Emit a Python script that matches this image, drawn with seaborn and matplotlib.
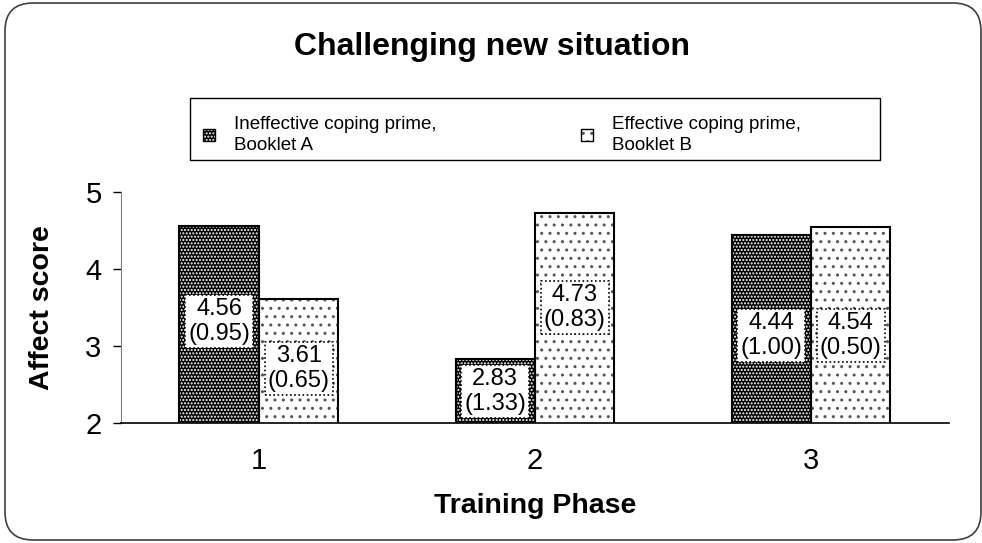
import pandas as pd
import matplotlib
matplotlib.use("Agg")
import matplotlib.pyplot as plt
from matplotlib.patches import Rectangle, FancyBboxPatch, Patch
import seaborn as sns

# data
phases = ["1", "2", "3"]
groups = ["Ineffective coping prime,\nBooklet A", "Effective coping prime,\nBooklet B"]
ineffective_mean = [4.56, 2.83, 4.44]
ineffective_sd = [0.95, 1.33, 1.00]
effective_mean = [3.61, 4.73, 4.54]
effective_sd = [0.65, 0.83, 0.50]
# height (score units) where the value boxes sit inside the bars
ineffective_label_y = [3.32, 2.41, 3.14]
effective_label_y = [2.71, 3.50, 3.14]

df = pd.DataFrame({
    "phase": phases * 2,
    "group": [groups[0]] * 3 + [groups[1]] * 3,
    "score": ineffective_mean + effective_mean,
})

sns.set_style("white")
plt.rcParams["font.family"] = ["Liberation Sans", "DejaVu Sans"]
plt.rcParams["hatch.linewidth"] = 1.0
plt.rcParams["text.color"] = "black"
plt.rcParams["axes.labelcolor"] = "black"
plt.rcParams["xtick.color"] = "black"
plt.rcParams["ytick.color"] = "black"

fig = plt.figure(figsize=(9.82, 5.43), dpi=100)
ax = fig.add_axes([0.1232, 0.221, 0.8432, 0.4254])

sns.barplot(data=df, x="phase", y="score", hue="group", hue_order=groups,
            order=phases, width=0.576, gap=0, errorbar=None, legend=False, ax=ax)

styles = [
    {"face": "black", "dots": "white", "hatch": "....."},
    {"face": "white", "dots": "#555555", "hatch": ".."},
]
means = [ineffective_mean, effective_mean]
sds = [ineffective_sd, effective_sd]
label_ys = [ineffective_label_y, effective_label_y]

for i, container in enumerate(ax.containers):
    st = styles[i]
    for bar, m, s, ly in zip(container, means[i], sds[i], label_ys[i]):
        bar.set_facecolor(st["face"])
        bar.set_edgecolor(st["dots"])
        bar.set_hatch(st["hatch"])
        bar.set_linewidth(0)
        ax.add_patch(Rectangle(bar.get_xy(), bar.get_width(), bar.get_height(),
                               fill=False, edgecolor="black", lw=1.5, zorder=3))
        ax.text(bar.get_x() + bar.get_width() / 2, ly, f"{m:.2f}\n({s:.2f})",
                ha="center", va="center", fontsize=17, zorder=4,
                bbox=dict(boxstyle="square,pad=0.12", facecolor="white",
                          edgecolor="black", linestyle=(0, (1, 1.5)), lw=1.2))

ax.set_ylim(2, 5)
ax.set_yticks([2, 3, 4, 5])
ax.tick_params(axis="y", left=True, length=6, width=1, color="black",
               direction="out", pad=8, labelsize=21)
ax.tick_params(axis="x", bottom=False, length=0, pad=17, labelsize=21)
for side in ["top", "right"]:
    ax.spines[side].set_visible(False)
ax.spines["left"].set_color("#808080")
ax.spines["bottom"].set_color("black")
ax.spines["bottom"].set_linewidth(1.2)

ax.set_xlabel("Training Phase", fontsize=20.5, fontweight="bold", labelpad=13)
ax.set_ylabel("Affect score", fontsize=20.5, fontweight="bold", labelpad=22)

fig.text(0.501, 1 - 55 / 543, "Challenging new situation", ha="center",
         va="baseline", fontsize=23, fontweight="bold")

# legend: hatched swatch with a black outline drawn over it
handles = [(Patch(facecolor=st["face"], edgecolor=st["dots"], hatch=st["hatch"], lw=0),
            Patch(fill=False, edgecolor="black", lw=1)) for st in styles]
leg = fig.legend(handles, groups, loc="upper left", bbox_to_anchor=(203 / 982, 1 - 116 / 543),
                 frameon=False, ncol=2, fontsize=13.5, handlelength=0.65, handleheight=0.65,
                 handletextpad=1.0, columnspacing=7.7, borderpad=0, borderaxespad=0)
for t in leg.get_texts():
    t.set_linespacing(1.3)
fig.patches.append(Rectangle((190 / 982, 1 - 160 / 543), 690 / 982, 62 / 543,
                             transform=fig.transFigure, fill=False, edgecolor="black", lw=1))

# rounded outer frame
fig.patches.append(FancyBboxPatch((0.05, 0.03), 9.76, 5.37,
                                  boxstyle="round,pad=0,rounding_size=0.28",
                                  transform=fig.dpi_scale_trans, fill=False,
                                  edgecolor="#404040", lw=1.2))

fig.savefig("out.png", dpi=100)
